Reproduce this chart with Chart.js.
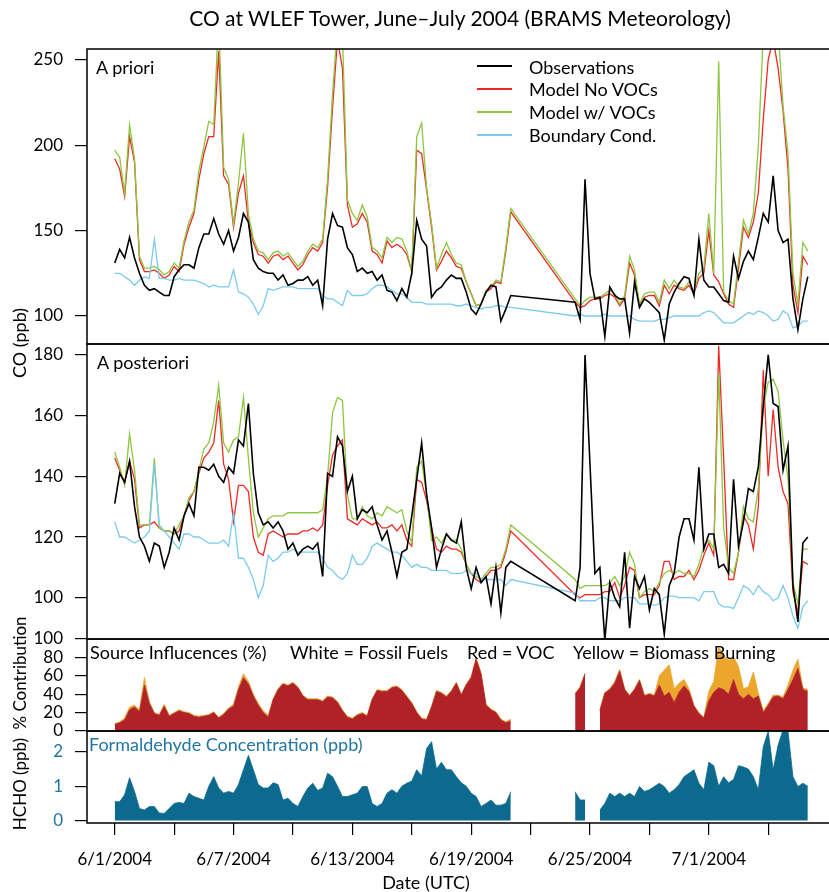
<!DOCTYPE html>
<html>
<head>
<meta charset="utf-8">
<title>CO at WLEF Tower</title>
<script src="https://cdn.jsdelivr.net/npm/chart.js@4.4.1/dist/chart.umd.min.js"></script>
<style>
  body { margin: 0; background: #fff; font-family: Lato, sans-serif; }
  #wrap { position: relative; width: 829px; height: 892px; overflow: hidden; background: #fff; }
  canvas { position: absolute; left: 0; }
  .txt { position: absolute; white-space: nowrap; color: #000; font-size: 18px; line-height: 1; }
  .rot { transform: translate(-50%, -50%) rotate(-90deg); font-size: 17px; }
  .ctr { transform: translateX(-50%); }
  .sw { position: absolute; left: 477px; width: 35px; height: 2px; }
</style>
</head>
<body>
<div id="wrap">
  <canvas id="c1" width="829" height="343" style="top:25px"></canvas>
  <canvas id="c2" width="829" height="343" style="top:320px"></canvas>
  <canvas id="c3" width="829" height="140" style="top:615px"></canvas>
  <canvas id="c4" width="829" height="185" style="top:707px"></canvas>

  <div class="txt ctr" style="left:460px; top:7px; font-size:21px">CO at WLEF Tower, June–July 2004 (BRAMS Meteorology)</div>

  <div class="txt" style="left:96px; top:58px">A priori</div>
  <div class="txt" style="left:97px; top:353px">A posteriori</div>

  <div class="sw" style="top:65px; background:#000"></div>
  <div class="sw" style="top:88px; background:#ee2a24"></div>
  <div class="sw" style="top:111px; background:#8dc63f"></div>
  <div class="sw" style="top:134px; background:#7ccbee"></div>
  <div class="txt" style="left:529px; top:58px">Observations</div>
  <div class="txt" style="left:529px; top:80px">Model No VOCs</div>
  <div class="txt" style="left:529px; top:103px">Model w/ VOCs</div>
  <div class="txt" style="left:529px; top:126px">Boundary Cond.</div>

  <div class="txt" style="left:90px; top:643px">Source Influcences (%)</div>
  <div class="txt" style="left:290px; top:643px">White = Fossil Fuels</div>
  <div class="txt" style="left:467px; top:643px">Red = VOC</div>
  <div class="txt" style="left:573px; top:643px">Yellow = Biomass Burning</div>
  <div class="txt" style="left:89px; top:735px; color:#2277a2">Formaldehyde Concentration (ppb)</div>

  <div class="txt rot" style="left:19px; top:343px; font-size:18px">CO (ppb)</div>
  <div class="txt rot" style="left:19px; top:673px">% Contribution</div>
  <div class="txt rot" style="left:19px; top:784px">HCHO (ppb)</div>
  <div class="txt ctr" style="left:426px; top:873px">Date (UTC)</div>
</div>

<script>
// 6-hourly samples starting 6/1/2004 00 UTC (index 0 = day 0)
const stepDays = 0.25;

// x axis ticks (days since 6/1/2004)
const minorTickDays = [0, 3, 6, 9, 12, 15, 18, 21, 24, 27, 30, 33];
const dateTickDays = [0, 6, 12, 18, 24, 30];
const dateTickLabels = ['6/1/2004', '6/7/2004', '6/13/2004', '6/19/2004', '6/25/2004', '7/1/2004'];

// y ticks per panel
const priorTicks = [100, 150, 200, 250];
const postTicks = [100, 120, 140, 160, 180];
const pctTicks = [0, 20, 40, 60, 80, 100];
const hchoTicks = [0, 1, 2];

// ---- A priori (ppb) ----
const obsPrior = [
  131,139,134,146,134,125,118,115,116,114,
  112,112,123,127,130,130,128,140,148,148,
  157,148,142,150,138,146,160,155,133,128,
  126,125,125,121,124,118,119,121,121,123,
  118,121,106,145,160,153,152,140,136,126,
  128,125,126,121,124,115,114,109,116,111,
  125,156,145,141,111,115,117,121,124,122,
  122,114,104,101,107,114,118,117,97,104,
  112,null,null,null,null,null,null,null,null,null,
  null,null,null,108,98,180,125,110,111,88,
  117,112,110,110,90,120,105,110,108,105,
  102,86,107,114,119,123,122,112,145,121,
  117,117,113,109,108,135,122,132,138,133,
  146,160,155,182,150,143,145,110,92,110,123
];
const noVocPrior = [
  192,186,170,205,190,133,126,126,127,125,
  122,124,129,126,142,152,160,180,195,205,
  205,255,182,177,152,172,182,155,143,136,
  135,131,135,136,133,135,131,127,130,136,
  140,138,143,176,222,262,245,165,152,154,
  160,155,138,136,131,144,140,142,140,136,
  126,197,195,174,152,127,132,138,134,129,
  128,120,113,106,107,114,116,120,119,138,
  161,null,null,null,null,null,null,null,null,null,
  null,null,null,108,105,106,109,110,110,112,
  113,111,106,110,131,124,106,111,112,112,
  106,118,113,118,116,115,118,113,122,125,
  150,124,120,113,107,105,128,152,146,155,
  172,215,250,262,245,220,186,118,102,135,130
];
const vocPrior = [
  197,193,172,212,192,135,128,128,129,127,
  124,126,131,128,144,155,162,185,199,214,
  212,275,187,180,154,178,207,160,145,138,
  137,133,137,138,135,137,133,129,132,138,
  142,140,145,180,230,270,265,168,160,156,
  165,158,140,138,134,146,143,146,145,138,
  126,205,213,175,154,128,136,143,136,131,
  130,120,113,106,107,115,117,121,120,140,
  163,null,null,null,null,null,null,null,null,null,
  null,null,null,110,106,109,111,111,111,113,
  115,113,107,112,135,127,107,113,114,114,
  108,121,116,121,117,116,120,114,125,128,
  160,125,249,114,109,107,132,156,148,160,
  199,265,275,270,268,223,195,125,107,143,138
];
const bcPrior = [
  125,125,123,121,118,121,123,122,145,122,
  122,121,121,122,121,121,121,120,119,117,
  118,117,117,117,127,114,113,111,107,101,
  106,116,115,116,117,117,117,116,116,116,
  116,116,112,110,110,108,106,115,112,112,
  112,113,116,118,118,117,115,113,113,111,
  108,108,108,107,107,107,107,107,107,106,
  106,107,106,105,104,105,105,106,106,105,
  105,null,null,null,null,null,null,null,null,null,
  null,null,null,100,101,100,100,100,100,101,
  100,100,100,100,100,98,97,97,97,97,
  98,98,99,100,100,100,100,100,100,102,
  103,102,99,96,96,96,98,100,102,101,
  103,102,100,97,98,103,101,93,94,97,97
];

// ---- A posteriori (ppb) ----
const obsPost = [
  131,141,138,145,130,120,117,112,118,117,
  110,115,123,119,127,131,127,143,143,142,
  144,140,138,143,141,152,150,164,141,128,
  124,125,123,125,122,116,118,114,116,117,
  116,118,107,141,140,153,150,135,140,126,
  129,128,130,124,119,122,115,107,115,116,
  127,139,151,134,123,110,116,121,119,118,
  125,110,103,110,105,107,98,110,95,110,
  112,null,null,null,null,null,null,null,null,null,
  null,null,null,99,110,180,144,108,110,86,
  105,100,97,115,90,107,103,107,96,103,
  101,88,104,108,120,126,126,119,143,116,
  121,121,110,111,108,139,117,125,136,135,
  143,163,180,164,163,142,150,104,92,118,120
];
const noVocPost = [
  146,142,138,145,139,123,124,124,125,123,
  122,122,121,122,127,132,135,141,146,148,
  151,165,144,139,125,137,137,135,120,115,
  114,121,122,121,120,121,121,121,122,122,
  123,122,124,137,147,150,152,126,125,124,
  126,125,124,125,123,123,124,122,124,119,
  117,139,138,132,123,116,115,117,116,116,
  115,111,108,106,105,107,109,109,110,115,
  122,null,null,null,null,null,null,null,null,null,
  null,null,null,101,100,101,101,101,101,102,
  102,105,100,104,110,109,100,101,101,101,
  104,112,112,106,107,107,109,106,109,114,
  118,114,183,146,106,106,115,127,124,116,
  130,175,140,162,143,135,131,102,95,112,111
];
const vocPost = [
  148,143,137,154,142,124,124,124,146,123,
  122,122,121,124,127,133,135,142,149,151,
  158,170,151,148,152,153,166,146,128,120,
  123,126,127,127,127,128,128,128,128,128,
  128,128,129,140,161,166,165,134,126,126,
  130,127,126,128,127,130,129,128,129,122,
  118,143,145,134,119,120,118,121,119,119,
  116,111,108,107,106,108,110,110,111,116,
  124,null,null,null,null,null,null,null,null,null,
  null,null,null,106,103,104,104,104,104,104,
  105,107,104,107,115,111,100,102,103,102,
  105,108,109,108,109,108,108,107,111,117,
  119,116,174,123,110,108,115,130,126,125,
  136,163,171,172,168,152,139,105,98,116,116
];
const bcPost = [
  125,120,120,119,118,119,120,122,144,124,
  122,120,118,116,121,121,120,120,119,118,
  118,118,119,117,128,113,113,110,106,100,
  104,114,112,113,115,115,116,115,115,115,
  115,115,113,110,109,107,106,108,114,111,
  111,113,117,118,117,116,115,115,114,112,
  110,111,110,110,109,109,109,109,108,108,
  108,109,108,108,106,106,106,106,106,104,
  106,null,null,null,null,null,null,null,null,null,
  null,null,null,101.5,99,99,99,99,100,100,
  99,99,99,100,100,100,98,98,98,97.5,
  98,100,100.5,100.5,100,100,100,100,99,102,
  102,102,98,97,97,96.5,100,104,103,101,
  104,102,101,99,100,104,100,94,90,97,99
];

// ---- Source influences (%) ----
const vocPct = [
  7,9,12,23,26,21,50,30,19,17,
  27,16,19,22,20,19,16,15,16,17,
  20,14,18,24,27,45,58,51,38,28,
  20,15,34,45,51,49,52,47,38,34,
  34,34,32,37,36,31,22,15,13,17,
  19,16,34,44,43,43,47,48,44,37,
  30,20,13,12,26,43,41,37,43,52,
  39,50,58,78,62,28,23,20,12,9,
  11,null,null,null,null,null,null,null,null,null,
  null,null,null,40,47,62,null,null,22,41,
  45,52,65,45,38,45,55,38,40,38,
  50,38,42,31,42,49,43,27,19,14,
  33,42,47,45,40,56,40,35,40,35,
  38,20,28,37,38,35,45,56,68,45,43
];
const biomassPct = [
  1,1,2,3,2,2,8,2,1,1,
  2,1,1,1,1,1,1,1,1,1,
  1,1,1,1,2,3,4,3,2,2,
  2,2,1,1,1,1,1,1,1,1,
  1,1,1,1,1,1,1,1,1,1,
  1,1,1,1,1,1,1,1,1,1,
  1,1,1,1,1,1,1,1,1,1,
  1,1,1,2,1,1,1,1,1,1,
  2,null,null,null,null,null,null,null,null,null,
  null,null,null,1,1,1,null,null,1,1,
  1,2,2,1,1,1,1,1,1,1,
  10,28,30,15,10,7,3,1,1,1,
  10,12,45,37,37,25,30,11,8,29,
  3,2,2,2,1,2,5,10,10,2,2
];

// ---- HCHO (ppb) ----
const hcho = [
  0.55,0.55,0.75,1.25,0.85,0.35,0.31,0.41,0.41,0.22,
  0.21,0.35,0.5,0.53,0.5,0.8,0.7,0.65,0.6,1.0,
  1.28,0.95,0.8,0.85,0.8,1.05,1.48,1.9,1.48,1.05,
  0.95,0.95,1.1,1.05,0.6,0.65,0.5,0.41,0.7,0.95,
  1.09,0.88,0.95,1.38,1.28,1.0,0.7,0.7,0.75,0.8,
  0.99,0.99,0.5,0.41,0.5,0.8,0.9,0.8,1.0,1.09,
  1.15,1.48,1.3,2.1,2.3,1.5,1.7,1.48,1.48,1.28,
  1.1,1.0,0.8,0.7,0.41,0.5,0.6,0.45,0.45,0.5,
  0.84,null,null,null,null,null,null,null,null,null,
  null,null,null,0.84,0.6,0.6,null,null,0.31,0.5,
  0.8,0.7,0.8,0.7,0.8,0.7,0.99,0.85,0.9,0.99,
  1.09,0.99,0.8,0.9,1.05,1.28,1.38,1.48,1.09,0.9,
  1.7,1.6,1.0,1.28,1.1,1.2,1.6,1.56,1.5,1.28,
  0.9,2.15,2.6,1.48,2.2,2.64,2.6,1.28,0.99,1.09,1.0
];

const FONT = 'Lato';
const xy = arr => arr.map((v, i) => ({ x: i * stepDays, y: v }));

// panel frame (top, left, bottom; right edge runs off the page)
const framePlugin = {
  id: 'frame',
  afterDatasetsDraw(chart) {
    const { ctx, chartArea: a } = chart;
    ctx.save();
    ctx.strokeStyle = '#000';
    ctx.lineWidth = 1.5;
    ctx.beginPath();
    ctx.moveTo(a.right + 5, a.top);
    ctx.lineTo(a.left, a.top);
    ctx.lineTo(a.left, a.bottom);
    ctx.lineTo(a.right + 5, a.bottom);
    ctx.stroke();
    ctx.restore();
  }
};

function xAxis(show) {
  return {
    type: 'linear', min: -1.4, max: 36.07, display: show, offset: false,
    afterBuildTicks: s => { s.ticks = minorTickDays.map(v => ({ value: v })); },
    afterFit: s => { if (show) s.height = 69; },
    grid: { drawOnChartArea: false, tickLength: 12, color: '#000', lineWidth: 1.2 },
    border: { display: false },
    ticks: {
      autoSkip: false, maxRotation: 0, padding: 14, color: '#000', font: { family: FONT, size: 17 },
      callback: v => { const i = dateTickDays.indexOf(v); return i < 0 ? '' : dateTickLabels[i]; }
    }
  };
}

function yAxis(min, max, tickVals, color, stacked) {
  return {
    min: min, max: max, stacked: !!stacked,
    afterBuildTicks: s => { s.ticks = tickVals.map(v => ({ value: v })); },
    afterFit: s => { s.width = 87; },
    grid: { drawOnChartArea: false, tickLength: 12, color: '#000', lineWidth: 1.2 },
    border: { display: false },
    ticks: { autoSkip: false, padding: 12, color: color, font: { family: FONT, size: 17 } }
  };
}

function options(pad, xShow, y) {
  return {
    responsive: false, animation: false,
    layout: { padding: pad },
    plugins: { legend: { display: false }, tooltip: { enabled: false } },
    elements: { point: { radius: 0 }, line: { tension: 0 } },
    scales: { x: xAxis(xShow), y: y }
  };
}

function lineSets(obs, noVoc, voc, bc) {
  return [
    { label: 'Observations', data: xy(obs), borderColor: '#000', borderWidth: 1.6, spanGaps: true },
    { label: 'Boundary Cond.', data: xy(bc), borderColor: '#7ccbee', borderWidth: 1.3, spanGaps: true },
    { label: 'Model w/ VOCs', data: xy(voc), borderColor: '#8dc63f', borderWidth: 1.3, spanGaps: true },
    { label: 'Model No VOCs', data: xy(noVoc), borderColor: '#ee2a24', borderWidth: 1.3, spanGaps: true }
  ];
}

const pad = { top: 24, bottom: 24, left: 0, right: 0 };

new Chart(document.getElementById('c1'), {
  type: 'line',
  data: { datasets: lineSets(obsPrior, noVocPrior, vocPrior, bcPrior) },
  options: options(pad, false, yAxis(83.6, 256.3, priorTicks, '#000')),
  plugins: [framePlugin]
});

new Chart(document.getElementById('c2'), {
  type: 'line',
  data: { datasets: lineSets(obsPost, noVocPost, vocPost, bcPost) },
  options: options(pad, false, yAxis(86.4, 183.6, postTicks, '#000')),
  plugins: [framePlugin]
});

// source influences: VOC filled from zero, biomass burning stacked on top
new Chart(document.getElementById('c3'), {
  type: 'line',
  data: {
    datasets: [
      { label: 'VOC', data: xy(vocPct), borderColor: '#b02227', backgroundColor: '#b02227',
        borderWidth: 0.8, fill: 'origin', spanGaps: false },
      { label: 'Biomass Burning', data: xy(biomassPct), borderColor: '#eba62b', backgroundColor: '#eba62b',
        borderWidth: 0.8, fill: '-1', spanGaps: false }
    ]
  },
  options: options(pad, false, yAxis(0, 100, pctTicks, '#000', true)),
  plugins: [framePlugin]
});

new Chart(document.getElementById('c4'), {
  type: 'line',
  data: {
    datasets: [{ label: 'HCHO', data: xy(hcho), borderColor: '#0c6a8e', backgroundColor: '#0c6a8e',
      borderWidth: 0.8, fill: 'origin', spanGaps: false }]
  },
  options: options({ top: 24, bottom: 0, left: 0, right: 0 }, true, yAxis(-0.07, 2.61, hchoTicks, '#2277a2')),
  plugins: [framePlugin]
});
</script>
</body>
</html>
